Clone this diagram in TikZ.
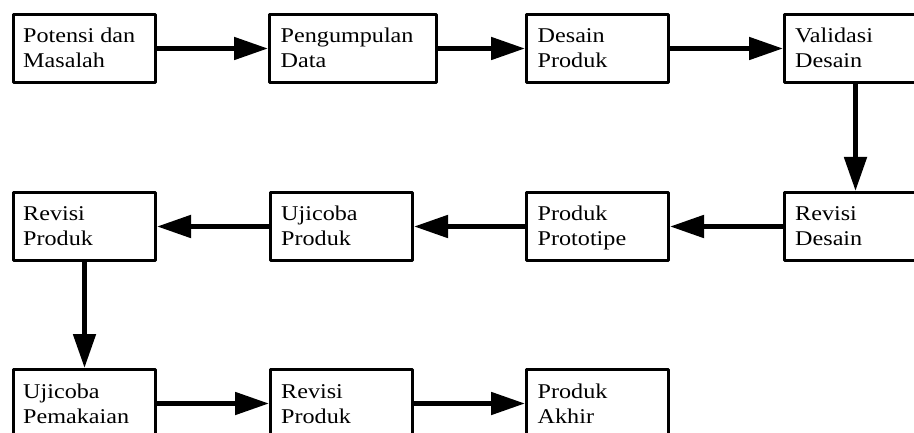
\documentclass[tikz,border=0pt]{standalone}
\usepackage{fontspec}
\setmainfont[FakeStretch=1.15]{Liberation Serif}
\usetikzlibrary{arrows.meta}
\tikzset{
  box/.style={draw, line width=3pt, line join=round, minimum width=142pt, minimum height=68pt, inner sep=0pt, anchor=north west},
  txt/.style={anchor=base west, inner sep=0pt, align=left, font=\fontsize{21}{25}\selectfont},
  arr/.style={line width=5pt, -{Triangle[length=34pt,width=22pt]}}
}
\begin{document}
\begin{tikzpicture}[x=1pt,y=-1pt]
\useasboundingbox (0,0) rectangle (914,433);
\clip (0,0) rectangle (914,433);
% row 1
\node[box] (b1) at (12,13) {};
\node[box, minimum width=167pt] (b2) at (268,13) {};
\node[box] (b3) at (525,13) {};
\node[box] (b4) at (783,13) {};
% row 2
\node[box] (c1) at (12,191) {};
\node[box] (c2) at (269,191) {};
\node[box] (c3) at (525,191) {};
\node[box] (c4) at (783,191) {};
% row 3
\node[box] (d1) at (12,368) {};
\node[box] (d2) at (269,368) {};
\node[box] (d3) at (525,368) {};
% texts (anchored at baseline of last line)
\node[txt] (tb1) at ([xshift=11pt,yshift=-55pt]b1.north west) {Potensi dan\\Masalah};
\node[txt] (tb2) at ([xshift=12.5pt,yshift=-55pt]b2.north west) {Pengumpulan\\Data};
\node[txt] (tb3) at ([xshift=12.5pt,yshift=-55pt]b3.north west) {Desain\\Produk};
\node[txt] (tb4) at ([xshift=12pt,yshift=-55pt]b4.north west) {Validasi\\Desain};
\node[txt] (tc1) at ([xshift=11pt,yshift=-55pt]c1.north west) {Revisi\\Produk};
\node[txt] (tc2) at ([xshift=12pt,yshift=-55pt]c2.north west) {Ujicoba\\Produk};
\node[txt] (tc3) at ([xshift=12.5pt,yshift=-55pt]c3.north west) {Produk\\Prototipe};
\node[txt] (tc4) at ([xshift=12pt,yshift=-55pt]c4.north west) {Revisi\\Desain};
\node[txt] (td1) at ([xshift=11pt,yshift=-55pt]d1.north west) {Ujicoba\\Pemakaian};
\node[txt] (td2) at ([xshift=12pt,yshift=-55pt]d2.north west) {Revisi\\Produk};
\node[txt] (td3) at ([xshift=12.5pt,yshift=-55pt]d3.north west) {Produk\\Akhir};
% arrows
\draw[arr] (b1.east) -- (b2.west);
\draw[arr] (b2.east) -- (b3.west);
\draw[arr] (b3.east) -- (b4.west);
\draw[arr] (b4.south) -- (c4.north);
\draw[arr] (c4.west) -- (c3.east);
\draw[arr] (c3.west) -- (c2.east);
\draw[arr] (c2.west) -- (c1.east);
\draw[arr] (c1.south) -- (d1.north);
\draw[arr] (d1.east) -- (d2.west);
\draw[arr] (d2.east) -- (d3.west);
\end{tikzpicture}
\end{document}
